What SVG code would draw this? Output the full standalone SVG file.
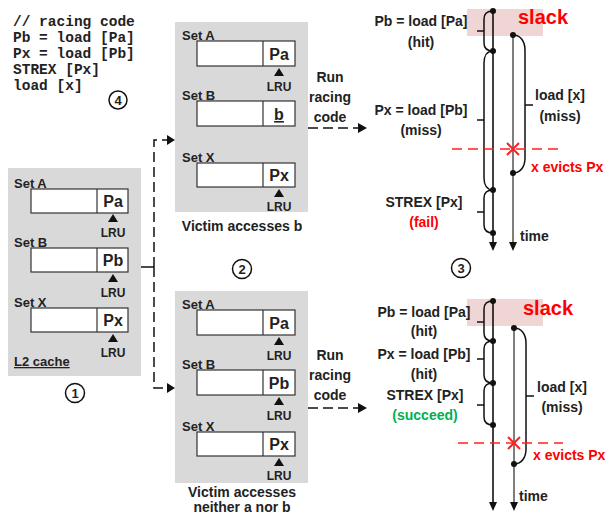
<svg xmlns="http://www.w3.org/2000/svg" width="606" height="516" viewBox="0 0 606 516">
<defs>
<style>
text{font-family:"Liberation Sans",Arial,sans-serif;font-weight:bold;fill:#222}
.code{font-family:"Liberation Mono","DejaVu Sans Mono",monospace;font-size:14.5px;fill:#222}
.set{font-size:13px}
.cell{font-size:16px;text-anchor:middle}
.lru{font-size:12px;text-anchor:middle}
.cap{font-size:14px;text-anchor:middle}
.lbl{font-size:14px;text-anchor:middle}
.red{fill:#ff0000}
.grn{fill:#00b050}
.box{fill:#d9d9d9}
.row{fill:#fff;stroke:#333;stroke-width:1.2}
.num{font-size:13px;text-anchor:middle}
.circ{fill:none;stroke:#111;stroke-width:1.5}
.dash{fill:none;stroke:#111;stroke-width:1.5;stroke-dasharray:10 5}
.rdash{fill:none;stroke:#ff2020;stroke-width:1.3;stroke-dasharray:10 6}
.br{fill:none;stroke:#111;stroke-width:1.5}
.tl{stroke:#111;stroke-width:1.6}
.tl2{stroke:#707070;stroke-width:1.8}
.slack{fill:#efd5d3}
</style>
</defs>

<!-- code -->
<g id="code">
<text class="code" x="13" y="26">// racing code</text>
<text class="code" x="13" y="42">Pb = load [Pa]</text>
<text class="code" x="13" y="58">Px = load [Pb]</text>
<text class="code" x="13" y="74">STREX [Px]</text>
<text class="code" x="13" y="90">load [x]</text>
<circle class="circ" cx="118" cy="100" r="9"/>
<text class="num" x="118" y="105">4</text>
</g>

<!-- L2 cache (left) -->
<g id="cache-initial">
<rect class="box" x="8" y="168" width="133" height="208"/>
<text class="set" x="14" y="188">Set A</text>
<rect class="row" x="31" y="189" width="97" height="24"/>
<line x1="97" y1="189" x2="97" y2="213" stroke="#333" stroke-width="1.2"/>
<text class="cell" x="113" y="207">Pa</text>
<polygon points="113,214 108,222 118,222" fill="#111"/>
<text class="lru" x="113" y="237">LRU</text>
<text class="set" x="14" y="247">Set B</text>
<rect class="row" x="31" y="248" width="97" height="24"/>
<line x1="97" y1="248" x2="97" y2="272" stroke="#333" stroke-width="1.2"/>
<text class="cell" x="113" y="266">Pb</text>
<polygon points="113,274 108,282 118,282" fill="#111"/>
<text class="lru" x="113" y="297">LRU</text>
<text class="set" x="14" y="307">Set X</text>
<rect class="row" x="31" y="308" width="97" height="24"/>
<line x1="97" y1="308" x2="97" y2="332" stroke="#333" stroke-width="1.2"/>
<text class="cell" x="113" y="326">Px</text>
<polygon points="113,334 108,342 118,342" fill="#111"/>
<text class="lru" x="113" y="357">LRU</text>
<text class="set" x="14" y="366" text-decoration="underline">L2 cache</text>
<circle class="circ" cx="75" cy="393" r="9.5"/>
<text class="num" x="75" y="398">1</text>
</g>

<!-- middle top -->
<g id="cache-victim-b">
<rect class="box" x="175" y="22" width="133" height="190"/>
<text class="set" x="182" y="40">Set A</text>
<rect class="row" x="197" y="41" width="98" height="25"/>
<line x1="263" y1="41" x2="263" y2="66" stroke="#333" stroke-width="1.2"/>
<text class="cell" x="279" y="60">Pa</text>
<polygon points="279,68 274,76 284,76" fill="#111"/>
<text class="lru" x="279" y="91">LRU</text>
<text class="set" x="182" y="100">Set B</text>
<rect class="row" x="197" y="101" width="98" height="25"/>
<line x1="263" y1="101" x2="263" y2="126" stroke="#333" stroke-width="1.2"/>
<text class="cell" x="279" y="120" text-decoration="underline">b</text>
<text class="set" x="182" y="162">Set X</text>
<rect class="row" x="197" y="163" width="98" height="24"/>
<line x1="263" y1="163" x2="263" y2="187" stroke="#333" stroke-width="1.2"/>
<text class="cell" x="279" y="181">Px</text>
<polygon points="279,189 274,197 284,197" fill="#111"/>
<text class="lru" x="279" y="211">LRU</text>
<text class="cap" x="242" y="231">Victim accesses b</text>
<circle class="circ" cx="242" cy="269" r="9.5"/>
<text class="num" x="242" y="274">2</text>
</g>

<!-- middle bottom -->
<g id="cache-victim-none">
<rect class="box" x="175" y="291" width="133" height="192"/>
<text class="set" x="182" y="309">Set A</text>
<rect class="row" x="197" y="310" width="98" height="25"/>
<line x1="263" y1="310" x2="263" y2="335" stroke="#333" stroke-width="1.2"/>
<text class="cell" x="279" y="329">Pa</text>
<polygon points="279,337 274,345 284,345" fill="#111"/>
<text class="lru" x="279" y="360">LRU</text>
<text class="set" x="182" y="369">Set B</text>
<rect class="row" x="197" y="370" width="98" height="25"/>
<line x1="263" y1="370" x2="263" y2="395" stroke="#333" stroke-width="1.2"/>
<text class="cell" x="279" y="389">Pb</text>
<polygon points="279,397 274,405 284,405" fill="#111"/>
<text class="lru" x="279" y="420">LRU</text>
<text class="set" x="182" y="431">Set X</text>
<rect class="row" x="197" y="432" width="98" height="24"/>
<line x1="263" y1="432" x2="263" y2="456" stroke="#333" stroke-width="1.2"/>
<text class="cell" x="279" y="450">Px</text>
<polygon points="279,458 274,466 284,466" fill="#111"/>
<text class="lru" x="279" y="480">LRU</text>
<text class="cap" x="242" y="497">Victim accesses</text>
<text class="cap" x="242" y="512">neither a nor b</text>
</g>

<!-- run racing code labels -->
<g id="run-top">
<text class="lbl" x="330" y="82">Run</text>
<text class="lbl" x="330" y="102">racing</text>
<text class="lbl" x="330" y="122">code</text>
</g>
<g id="run-bottom">
<text class="lbl" x="330" y="360">Run</text>
<text class="lbl" x="330" y="380">racing</text>
<text class="lbl" x="330" y="400">code</text>
</g>

<!-- connectors -->
<g id="connectors">
<line x1="141" y1="267" x2="154" y2="267" stroke="#111" stroke-width="1.5"/>
<path class="dash" d="M154,267 V140 H168"/>
<polygon points="167,135 175,140 167,145" fill="#111"/>
<path class="dash" d="M154,267 V388 H168"/>
<polygon points="167,383 175,388 167,393" fill="#111"/>
<path class="dash" d="M308,128 H358" stroke-dasharray="13 8"/>
<polygon points="358,123 367,128 358,133" fill="#111"/>
<path class="dash" d="M308,408 H358" stroke-dasharray="13 8"/>
<polygon points="358,403 367,408 358,413" fill="#111"/>
</g>

<!-- timeline top -->
<g id="timeline-fail">
<rect class="slack" x="467" y="9" width="76" height="27"/>
<text x="518" y="24" style="font-size:20px" class="red">slack</text>
<line class="tl" x1="493" y1="11" x2="493" y2="244"/>
<polygon points="489,242 497,242 493,251" fill="#111"/>
<line class="tl2" x1="513" y1="35" x2="513" y2="244"/>
<polygon points="509,242 517,242 513,251" fill="#111"/>
<path class="br" d="M493,11 C487,11 484,14 484,19 V43 C484,48 487,51 493,51"/>
<line x1="477" y1="31" x2="484" y2="31" stroke="#111" stroke-width="1.5"/>
<path class="br" d="M493,51 C487,51 484,56 484,63 V178 C484,185 487,190 493,190"/>
<line x1="477" y1="120" x2="484" y2="120" stroke="#111" stroke-width="1.5"/>
<path class="br" d="M493,190 C487,190 484,193 484,198 V225 C484,230 487,233 493,233"/>
<line x1="477" y1="212" x2="484" y2="212" stroke="#111" stroke-width="1.5"/>
<path class="br" d="M513,35 C521,35 525,42 525,50 V158 C525,166 521,173 513,173"/>
<line x1="525" y1="105" x2="533" y2="105" stroke="#111" stroke-width="1.5"/>
<circle cx="493" cy="11" r="3" fill="#111"/>
<circle cx="493" cy="51" r="3" fill="#111"/>
<circle cx="493" cy="190" r="3" fill="#111"/>
<circle cx="493" cy="233" r="3" fill="#111"/>
<circle cx="513" cy="35" r="3" fill="#111"/>
<circle cx="513" cy="173" r="3" fill="#111"/>
<line class="rdash" x1="452" y1="149" x2="558" y2="149"/>
<path d="M507,143 L519,155 M507,155 L519,143" stroke="#ff2020" stroke-width="2"/>
<text class="lbl" x="421" y="26">Pb = load [Pa]</text>
<text class="lbl" x="421" y="47">(hit)</text>
<text class="lbl" x="421" y="115">Px = load [Pb]</text>
<text class="lbl" x="421" y="135">(miss)</text>
<text class="lbl" x="424" y="207">STREX [Px]</text>
<text class="lbl red" x="424" y="227">(fail)</text>
<text class="lbl" x="560" y="100">load [x]</text>
<text class="lbl" x="560" y="121">(miss)</text>
<text class="red" x="531" y="172" style="font-size:14px">x evicts Px</text>
<text x="520" y="241" style="font-size:14px">time</text>
<circle class="circ" cx="461" cy="268" r="9.5"/>
<text class="num" x="461" y="273">3</text>
</g>

<!-- timeline bottom -->
<g id="timeline-succeed">
<rect class="slack" x="467" y="299" width="76" height="27"/>
<text x="523" y="315" style="font-size:20px" class="red">slack</text>
<line class="tl" x1="493" y1="301" x2="493" y2="504"/>
<polygon points="489,502 497,502 493,511" fill="#111"/>
<line class="tl2" x1="514" y1="328" x2="514" y2="504"/>
<polygon points="510,502 518,502 514,511" fill="#111"/>
<path class="br" d="M493,301 C487,301 484,304 484,309 V333 C484,338 487,341 493,341"/>
<line x1="477" y1="322" x2="484" y2="322" stroke="#111" stroke-width="1.5"/>
<path class="br" d="M493,341 C487,341 484,344 484,349 V375 C484,380 487,383 493,383"/>
<line x1="477" y1="359" x2="484" y2="359" stroke="#111" stroke-width="1.5"/>
<path class="br" d="M493,383 C487,383 484,386 484,391 V417 C484,422 487,425 493,425"/>
<line x1="477" y1="405" x2="484" y2="405" stroke="#111" stroke-width="1.5"/>
<path class="br" d="M514,328 C522,328 526,335 526,343 V449 C526,457 522,464 514,464"/>
<line x1="526" y1="396" x2="534" y2="396" stroke="#111" stroke-width="1.5"/>
<circle cx="493" cy="301" r="3" fill="#111"/>
<circle cx="493" cy="341" r="3" fill="#111"/>
<circle cx="493" cy="383" r="3" fill="#111"/>
<circle cx="493" cy="425" r="3" fill="#111"/>
<circle cx="514" cy="328" r="3" fill="#111"/>
<circle cx="514" cy="464" r="3" fill="#111"/>
<line class="rdash" x1="458" y1="443" x2="563" y2="443"/>
<path d="M508,437 L520,449 M508,449 L520,437" stroke="#ff2020" stroke-width="2"/>
<text class="lbl" x="424" y="317">Pb = load [Pa]</text>
<text class="lbl" x="424" y="336">(hit)</text>
<text class="lbl" x="424" y="359">Px = load [Pb]</text>
<text class="lbl" x="424" y="379">(hit)</text>
<text class="lbl" x="425" y="400">STREX [Px]</text>
<text class="lbl grn" x="425" y="420">(succeed)</text>
<text class="lbl" x="562" y="392">load [x]</text>
<text class="lbl" x="562" y="412">(miss)</text>
<text class="red" x="533" y="460" style="font-size:14px">x evicts Px</text>
<text x="519" y="501" style="font-size:14px">time</text>
</g>
</svg>
